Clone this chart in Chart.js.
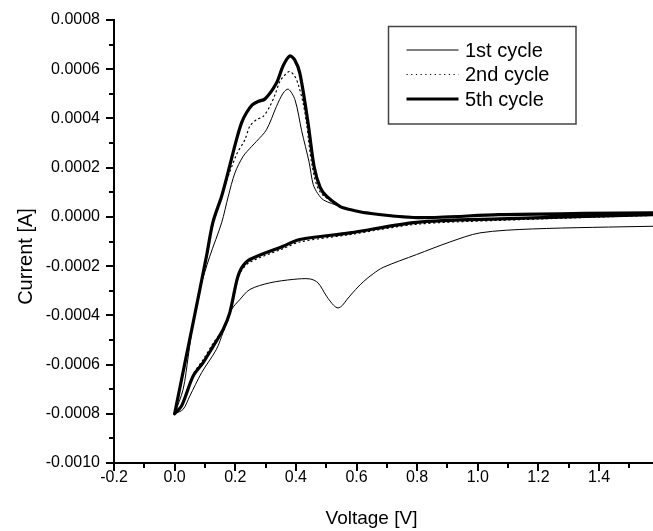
<!DOCTYPE html>
<html>
<head>
<meta charset="utf-8">
<script src="https://cdn.jsdelivr.net/npm/chart.js@4.4.1/dist/chart.umd.min.js"></script>
<style>body{margin:0;background:#fff}</style>
</head>
<body>
<canvas id="cv" width="653" height="531"></canvas>
<script>
// axis ranges and tick labels
const xMin = -0.2, xMax = 1.578;
const yMin = -0.001, yMax = 0.0008;
const xTicks = [-0.2, 0.0, 0.2, 0.4, 0.6, 0.8, 1.0, 1.2, 1.4];
const xMinor = [-0.1, 0.1, 0.3, 0.5, 0.7, 0.9, 1.1, 1.3, 1.5];
const yTicks = [-0.001, -0.0008, -0.0006, -0.0004, -0.0002, 0, 0.0002, 0.0004, 0.0006, 0.0008];
const yMinor = [-0.0009, -0.0007, -0.0005, -0.0003, -0.0001, 0.0001, 0.0003, 0.0005, 0.0007];

// 1st cycle: anodic sweep then back (V, A)
const v1 = [0, 0.028, 0.045, 0.061, 0.083, 0.116, 0.155, 0.177, 0.199, 0.226, 0.254, 0.270, 0.303, 0.336, 0.358, 0.375, 0.397, 0.419, 0.444, 0.457, 0.472, 0.492, 0.545, 0.578, 0.633, 0.80, 1.07, 1.35, 1.578, 1.7,
  1.7, 1.578, 1.181, 1.007, 0.908, 0.798, 0.688, 0.655, 0.622, 0.589, 0.567, 0.553, 0.539, 0.525, 0.501, 0.473, 0.446, 0.391, 0.314, 0.248, 0.215, 0.188, 0.177, 0.160, 0.138, 0.089, 0.050, 0.028, 0];
const i1 = [-0.000800, -0.000701, -0.000566, -0.000430, -0.000295, -0.000160, -0.000024, 0.000084, 0.000179, 0.000246, 0.000286, 0.000307, 0.000354, 0.000449, 0.000503, 0.000519, 0.000476, 0.000350, 0.000220, 0.000132, 0.000095, 0.000068, 0.000043, 0.000030, 0.000016, 0.000001, 0.000009, 0.000013, 0.000015, 0.000016,
  -0.000036, -0.000038, -0.000049, -0.000065, -0.000102, -0.000153, -0.000205, -0.000231, -0.000264, -0.000306, -0.000338, -0.000360, -0.000370, -0.000360, -0.000322, -0.000268, -0.000252, -0.000254, -0.000268, -0.000295, -0.000336, -0.000376, -0.000417, -0.000469, -0.000538, -0.000633, -0.000728, -0.000782, -0.000800];

// 2nd cycle
const v2 = [0, 0.034, 0.060, 0.106, 0.128, 0.160, 0.204, 0.232, 0.248, 0.270, 0.292, 0.314, 0.331, 0.347, 0.364, 0.380, 0.397, 0.408, 0.424, 0.435, 0.453, 0.479, 0.545, 0.578, 0.633, 0.80, 1.07, 1.35, 1.578, 1.7,
  1.7, 1.578, 1.073, 0.798, 0.578, 0.413, 0.358, 0.248, 0.221, 0.206, 0.182, 0.160, 0.125, 0.094, 0.061, 0.023, 0];
const i2 = [-0.000800, -0.000590, -0.000435, -0.000165, -0.000028, 0.000105, 0.000253, 0.000314, 0.000368, 0.000395, 0.000408, 0.000449, 0.000496, 0.000550, 0.000577, 0.000591, 0.000570, 0.000537, 0.000462, 0.000381, 0.000212, 0.000103, 0.000043, 0.000030, 0.000016, -0.000001, 0.000009, 0.000014, 0.000016, 0.000017,
  0.000008, 0.000006, -0.000014, -0.000030, -0.000072, -0.000102, -0.000129, -0.000184, -0.000218, -0.000262, -0.000392, -0.000455, -0.000518, -0.000580, -0.000640, -0.000765, -0.000800];

// 5th cycle
const v5 = [0, 0.034, 0.061, 0.105, 0.126, 0.155, 0.176, 0.204, 0.221, 0.237, 0.256, 0.275, 0.298, 0.336, 0.358, 0.380, 0.396, 0.413, 0.440, 0.460, 0.480, 0.501, 0.545, 0.578, 0.633, 0.80, 1.07, 1.35, 1.578, 1.7,
  1.7, 1.578, 1.073, 0.798, 0.578, 0.413, 0.358, 0.248, 0.221, 0.206, 0.182, 0.160, 0.125, 0.094, 0.061, 0.023, 0];
const i5 = [-0.000800, -0.000593, -0.000430, -0.000160, -0.000023, 0.000084, 0.000180, 0.000314, 0.000383, 0.000423, 0.000455, 0.000469, 0.000479, 0.000544, 0.000614, 0.000654, 0.000638, 0.000584, 0.000383, 0.000205, 0.000120, 0.000084, 0.000043, 0.000030, 0.000016, -0.000003, 0.000009, 0.000014, 0.000016, 0.000017,
  0.000010, 0.000009, -0.000008, -0.000022, -0.000065, -0.000092, -0.000119, -0.000173, -0.000207, -0.000254, -0.000389, -0.000457, -0.000530, -0.000592, -0.000647, -0.000768, -0.000800];

const labels = ["1st cycle", "2nd cycle", "5th cycle"];

const pts = (vs, is) => vs.map((v, k) => ({ x: v, y: is[k] }));

Chart.defaults.font.family = "'Liberation Sans', Arial, sans-serif";
Chart.defaults.color = "#000";

// minor ticks, legend box and axis titles
const extras = {
  id: "extras",
  afterDraw(chart) {
    const { ctx, chartArea, scales: { x, y } } = chart;
    ctx.save();
    ctx.strokeStyle = "#000";
    ctx.lineWidth = 2;
    ctx.beginPath();
    xMinor.forEach(v => {
      const px = Math.round(x.getPixelForValue(v));
      if (px > chartArea.right) return;
      ctx.moveTo(px, chartArea.bottom);
      ctx.lineTo(px, chartArea.bottom + 5);
    });
    yMinor.forEach(v => {
      const py = Math.round(y.getPixelForValue(v));
      ctx.moveTo(chartArea.left, py);
      ctx.lineTo(chartArea.left - 5, py);
    });
    ctx.stroke();

    // legend
    ctx.strokeStyle = "#444";
    ctx.lineWidth = 1.5;
    ctx.strokeRect(388.5, 26.5, 187.5, 97.5);
    ctx.font = "20px 'Liberation Sans', Arial, sans-serif";
    ctx.fillStyle = "#000";
    ctx.textBaseline = "middle";
    chart.data.datasets.forEach((ds, k) => {
      const ly = 50 + k * 24.5;
      ctx.beginPath();
      ctx.strokeStyle = ds.borderColor;
      ctx.lineWidth = ds.borderWidth;
      ctx.setLineDash(ds.borderDash || []);
      ctx.moveTo(406.5, ly);
      ctx.lineTo(458.5, ly);
      ctx.stroke();
      ctx.setLineDash([]);
      ctx.fillText(ds.label, 465, ly + 1);
    });

    // axis titles
    ctx.textAlign = "center";
    ctx.textBaseline = "alphabetic";
    ctx.font = "19px 'Liberation Sans', Arial, sans-serif";
    ctx.fillText("Voltage [V]", 371.5, 524);
    ctx.translate(31.5, 256.5);
    ctx.rotate(-Math.PI / 2);
    ctx.font = "20px 'Liberation Sans', Arial, sans-serif";
    ctx.fillText("Current [A]", 0, 0);
    ctx.restore();
  }
};

const config = {
  type: "scatter",
  data: {
    datasets: [
      { label: labels[0], data: pts(v1, i1), borderColor: "#000", borderWidth: 1, borderDash: [] },
      { label: labels[1], data: pts(v2, i2), borderColor: "#000", borderWidth: 1.2, borderDash: [1.2, 3.5] },
      { label: labels[2], data: pts(v5, i5), borderColor: "#000", borderWidth: 3.2, borderDash: [] },
    ],
  },
  options: {
    responsive: false,
    animation: false,
    showLine: true,
    layout: { padding: { top: 20, right: 0, left: 0, bottom: 0 } },
    elements: {
      point: { radius: 0 },
      line: { tension: 0.3, fill: false, borderJoinStyle: "round", borderCapStyle: "round" },
    },
    plugins: { legend: { display: false }, tooltip: { enabled: false } },
    scales: {
      x: {
        type: "linear",
        min: xMin,
        max: xMax,
        afterBuildTicks: s => { s.ticks = xTicks.map(v => ({ value: v })); },
        afterFit: s => { s.height = 68; },
        ticks: { callback: v => v.toFixed(1), font: { size: 16, lineHeight: 1 }, padding: -1, maxRotation: 0, autoSkip: false },
        grid: { drawOnChartArea: false, color: "#000", lineWidth: 2, tickLength: 8 },
        border: { color: "#000", width: 2 },
      },
      y: {
        type: "linear",
        min: yMin,
        max: yMax,
        afterBuildTicks: s => { s.ticks = yTicks.map(v => ({ value: v })); },
        afterFit: s => { s.width = 114; },
        ticks: { callback: v => v.toFixed(4), font: { size: 16 }, padding: 6, autoSkip: false },
        grid: { drawOnChartArea: false, color: "#000", lineWidth: 2, tickLength: 8 },
        border: { color: "#000", width: 2 },
      },
    },
  },
  plugins: [extras],
};

const myChart = new Chart(document.getElementById("cv"), config);
</script>
</body>
</html>
